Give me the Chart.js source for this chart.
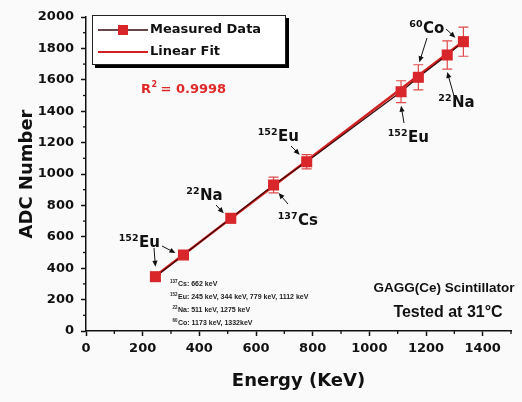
<!DOCTYPE html>
<html><head><meta charset="utf-8">
<script src="https://cdn.jsdelivr.net/npm/chart.js@4.4.1/dist/chart.umd.min.js"></script>
<style>html,body{margin:0;padding:0;background:#fafafa}#wrap{width:522px;height:402px}</style>
</head><body><div id="wrap"><canvas id="c" width="522" height="402"></canvas></div>
<script>
// ---- data ----
const energies   = [245, 344, 511, 662, 779, 1112, 1173, 1275, 1332];   // keV
const adcValues  = [346, 484, 718, 930, 1078, 1524, 1616, 1758, 1843];
const adcErrors  = [20, 25, 30, 50, 45, 70, 80, 90, 93];
const fitEnergies = [245, 1332];
const fitValues   = [350, 1845];
const xTickValues = [0, 200, 400, 600, 800, 1000, 1200, 1400];
const yTickValues = [0, 200, 400, 600, 800, 1000, 1200, 1400, 1600, 1800, 2000];
const seriesNames = ['Measured Data', 'Linear Fit'];
const rSquared = '0.9998';
const sourceLines = [
  ['137', 'Cs: 662 keV'],
  ['152', 'Eu: 245 keV, 344 keV, 779 keV, 1112 keV'],
  ['22',  'Na: 511 keV, 1275 keV'],
  ['60',  'Co: 1173 keV, 1332keV']
];
// label: [sup, element, textX, textCenterY, [[startX,startY,pointIndex,dx,dy],...]]
const peakLabels = [
  ['152', 'Eu', 139, 242, [[154, 248, 0, 0, -10], [162, 246, 1, -8, -2]]],
  ['22',  'Na', 200, 195, [[216, 205, 2, -7, -5]]],
  ['137', 'Cs', 298, 220, [[288, 204, 3, 5, 8]]],
  ['152', 'Eu', 278, 136, [[291, 146, 4, -7, -7]]],
  ['152', 'Eu', 408, 137, [[404, 123, 5, 0, 14]]],
  ['60',  'Co', 423, 28,  [[427, 38, 6, 1, -15], [446, 29, 8, -8, -4]]],
  ['22',  'Na', 452, 102, [[454, 96, 7, 0, 17]]]
];

const RED = '#d8262b';
const FIT = '#d22020';
const DARK = '#3a0808';
const BOLD = (s, f) => `bold ${s}px ${f || '"DejaVu Sans"'}`;

function supText(ctx, sup, main, x, cy, size, supSize, color, family) {
  ctx.fillStyle = color || '#111';
  ctx.textBaseline = 'alphabetic';
  const base = cy + size * 0.36;
  ctx.font = BOLD(size, family);
  ctx.textAlign = 'left';
  ctx.fillText(main, x, base);
  ctx.font = BOLD(supSize, family);
  ctx.textAlign = 'right';
  ctx.fillText(sup, x - 0.5, base - size * 0.42);
  ctx.textAlign = 'left';
}
function arrow(ctx, x1, y1, x2, y2) {
  const a = Math.atan2(y2 - y1, x2 - x1), L = 6, W = 2.6;
  ctx.strokeStyle = '#111'; ctx.fillStyle = '#111'; ctx.lineWidth = 1;
  ctx.beginPath(); ctx.moveTo(x1, y1);
  ctx.lineTo(x2 - Math.cos(a) * L * 0.8, y2 - Math.sin(a) * L * 0.8); ctx.stroke();
  ctx.beginPath(); ctx.moveTo(x2, y2);
  ctx.lineTo(x2 - L * Math.cos(a) + W * Math.sin(a), y2 - L * Math.sin(a) - W * Math.cos(a));
  ctx.lineTo(x2 - L * Math.cos(a) - W * Math.sin(a), y2 - L * Math.sin(a) + W * Math.cos(a));
  ctx.closePath(); ctx.fill();
}

const decor = {
  id: 'decor',
  beforeDatasetsDraw(chart) {
    const {ctx, scales: {x, y}} = chart;
    ctx.save();
    // minor ticks
    ctx.strokeStyle = '#111'; ctx.lineWidth = 1.3;
    for (let v = 100; v <= 1500; v += 200) {
      const px = x.getPixelForValue(v);
      ctx.beginPath(); ctx.moveTo(px, y.bottom); ctx.lineTo(px, y.bottom + 3); ctx.stroke();
    }
    for (let v = 100; v < 2000; v += 200) {
      const py = y.getPixelForValue(v);
      ctx.beginPath(); ctx.moveTo(x.left, py); ctx.lineTo(x.left - 3, py); ctx.stroke();
    }
    // error bars
    ctx.strokeStyle = '#e04a4a'; ctx.lineWidth = 1.2;
    energies.forEach((e, i) => {
      const px = x.getPixelForValue(e);
      const top = y.getPixelForValue(adcValues[i] + adcErrors[i]);
      const bot = y.getPixelForValue(adcValues[i] - adcErrors[i]);
      ctx.beginPath();
      ctx.moveTo(px, top); ctx.lineTo(px, bot);
      ctx.moveTo(px - 5, top); ctx.lineTo(px + 5, top);
      ctx.moveTo(px - 5, bot); ctx.lineTo(px + 5, bot);
      ctx.stroke();
    });
    ctx.restore();
  },
  afterDraw(chart) {
    const {ctx, scales: {x, y}} = chart;
    ctx.save();
    // legend box
    ctx.fillStyle = '#000'; ctx.fillRect(95, 18, 194, 50);
    ctx.fillStyle = '#fff'; ctx.fillRect(92, 15, 194, 50);
    ctx.strokeStyle = '#222'; ctx.lineWidth = 1; ctx.strokeRect(92.5, 15.5, 193, 49);
    ctx.lineWidth = 1.5;
    ctx.strokeStyle = DARK; ctx.beginPath(); ctx.moveTo(98, 30); ctx.lineTo(148, 30); ctx.stroke();
    ctx.fillStyle = RED; ctx.fillRect(118, 25, 10, 10);
    ctx.strokeStyle = FIT; ctx.lineWidth = 2; ctx.beginPath(); ctx.moveTo(98, 52); ctx.lineTo(148, 52); ctx.stroke();
    ctx.fillStyle = '#111'; ctx.font = BOLD(13); ctx.textBaseline = 'middle'; ctx.textAlign = 'left';
    ctx.fillText(seriesNames[0], 150, 30);
    ctx.fillText(seriesNames[1], 150, 52);
    // R^2
    ctx.fillStyle = '#e02828'; ctx.textBaseline = 'alphabetic';
    ctx.font = BOLD(13); ctx.fillText('R', 141, 93);
    let w = ctx.measureText('R').width;
    ctx.font = BOLD(8); ctx.fillText('2', 141 + w + 0.5, 87);
    ctx.font = BOLD(13); ctx.fillText(' = ' + rSquared, 141 + w + 5, 93);
    // peak labels with arrows
    peakLabels.forEach(([sup, el, tx, cy, arrows]) => {
      supText(ctx, sup, el, tx, cy, 15, 9.5);
      arrows.forEach(([sx, sy, idx, dx, dy]) => {
        arrow(ctx, sx, sy, x.getPixelForValue(energies[idx]) + dx, y.getPixelForValue(adcValues[idx]) + dy);
      });
    });
    // source list
    sourceLines.forEach(([sup, txt], i) => {
      const base = 286 + i * 13;
      ctx.fillStyle = '#222'; ctx.textAlign = 'left'; ctx.textBaseline = 'alphabetic';
      ctx.font = BOLD(7, '"Liberation Sans"'); ctx.fillText(txt, 178, base);
      ctx.font = BOLD(4.5, '"Liberation Sans"'); ctx.textAlign = 'right'; ctx.fillText(sup, 177.5, base - 3);
    });
    // scintillator text
    ctx.fillStyle = '#111'; ctx.textAlign = 'center'; ctx.textBaseline = 'middle';
    ctx.font = BOLD(13.5, '"Liberation Sans"');
    ctx.fillText('GAGG(Ce) Scintillator', 444, 288);
    ctx.font = BOLD(16, '"Liberation Sans"');
    ctx.fillText('Tested at 31\u00B0C', 448, 313);
    ctx.restore();
  }
};

const tickFont = {family: '"DejaVu Sans"', size: 13, weight: 'bold'};
const titleFont = {family: '"DejaVu Sans"', size: 18, weight: 'bold'};
const plainNum = v => String(v);

new Chart(document.getElementById('c'), {
  type: 'scatter',
  data: {
    datasets: [
      {
        label: seriesNames[0],
        data: energies.map((e, i) => ({x: e, y: adcValues[i]})),
        showLine: true, borderColor: DARK, borderWidth: 1.2,
        pointStyle: 'rect', pointRadius: 7.8, pointHoverRadius: 7.8,
        pointBackgroundColor: RED, pointBorderColor: RED, pointBorderWidth: 0,
        order: 0
      },
      {
        label: seriesNames[1],
        data: fitEnergies.map((e, i) => ({x: e, y: fitValues[i]})),
        showLine: true, borderColor: FIT, borderWidth: 2.5, pointRadius: 0,
        order: 1
      }
    ]
  },
  options: {
    responsive: false, animation: false,
    layout: {padding: {left: 0, right: 11, top: 17, bottom: 0}},
    plugins: {legend: {display: false}, tooltip: {enabled: false}},
    scales: {
      x: {
        type: 'linear', min: 0, max: 1500,
        afterBuildTicks: s => { s.ticks = xTickValues.map(v => ({value: v})); },
        afterFit: s => { s.height = 71; },
        ticks: {font: tickFont, color: '#111', padding: 5, maxRotation: 0, autoSkip: false, callback: plainNum},
        grid: {drawOnChartArea: false, tickLength: 5, tickColor: '#111', tickWidth: 1.5},
        border: {color: '#111', width: 1.5},
        title: {display: true, text: 'Energy (KeV)', font: titleFont, color: '#111', padding: {top: 0, bottom: 10}}
      },
      y: {
        type: 'linear', min: 0, max: 2000,
        afterBuildTicks: s => { s.ticks = yTickValues.map(v => ({value: v})); },
        afterFit: s => { s.width = 86; },
        ticks: {font: tickFont, color: '#111', padding: 7, autoSkip: false, callback: plainNum},
        grid: {drawOnChartArea: false, tickLength: 5, tickColor: '#111', tickWidth: 1.5},
        border: {color: '#111', width: 1.5},
        title: {display: true, text: 'ADC Number', font: titleFont, color: '#111', padding: {top: 17, bottom: 0}}
      }
    }
  },
  plugins: [decor]
});
</script></body></html>
